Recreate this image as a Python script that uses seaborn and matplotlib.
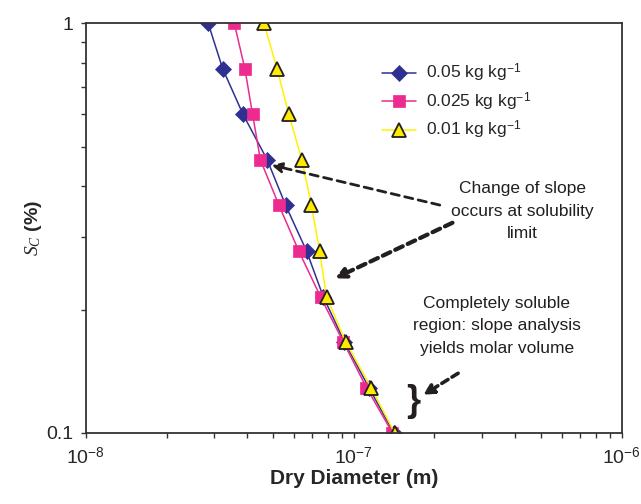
import numpy as np
import pandas as pd
import matplotlib
matplotlib.use("Agg")
import matplotlib.pyplot as plt
import seaborn as sns
from matplotlib.ticker import FixedLocator, FixedFormatter, NullFormatter

# ---- data ----
sc_levels = [1.0, 0.774, 0.599, 0.464, 0.359, 0.278, 0.215, 0.167, 0.129, 0.1]

d_005 = [2.86e-8, 3.24e-8, 3.86e-8, 4.75e-8, 5.57e-8, 6.66e-8, 7.69e-8, 9.22e-8, 1.138e-7, 1.41e-7]
d_0025 = [3.58e-8, 3.92e-8, 4.19e-8, 4.48e-8, 5.26e-8, 6.23e-8, 7.51e-8, 9.12e-8, 1.115e-7, 1.394e-7]
d_001 = [4.62e-8, 5.17e-8, 5.72e-8, 6.40e-8, 6.95e-8, 7.45e-8, 7.91e-8, 9.31e-8, 1.16e-7, 1.42e-7]

series_labels = ["0.05 kg kg$^{-1}$", "0.025 kg kg$^{-1}$", "0.01 kg kg$^{-1}$"]

xtick_vals = [1e-8, 1e-7, 1e-6]
xtick_labels = ["$10^{-8}$", "$10^{-7}$", "$10^{-6}$"]
ytick_vals = [0.1, 1.0]
ytick_labels = ["0.1", "1"]

annot_slope = "Change of slope\noccurs at solubility\nlimit"
annot_soluble = "Completely soluble\nregion: slope analysis\nyields molar volume"

# ---- style ----
sns.set_style("ticks")
plt.rcParams["font.family"] = ["Liberation Sans", "DejaVu Sans"]
plt.rcParams["mathtext.fontset"] = "custom"
plt.rcParams["mathtext.rm"] = "Liberation Sans"
plt.rcParams["mathtext.it"] = "Liberation Serif:italic"
plt.rcParams["mathtext.bf"] = "Liberation Sans:bold"

fig = plt.figure(figsize=(6.41, 5.04), dpi=100)
ax = fig.add_axes([0.134, 0.141, 0.836, 0.813])

styles = [
    dict(color="#2E3192", marker="D", markersize=7.8, markeredgecolor="#2E3192", markeredgewidth=0.5),
    dict(color="#EC2A90", marker="s", markersize=8.4, markeredgecolor="#EC2A90", markeredgewidth=0.5),
    dict(color="#FFF200", marker="^", markersize=9.5, markeredgecolor="#231F20",
         markerfacecolor="#FFEB00", markeredgewidth=1.3),
]
for d, lab, st in zip([d_005, d_0025, d_001], series_labels, styles):
    df = pd.DataFrame({"D": d, "Sc": sc_levels})
    sns.lineplot(data=df, x="D", y="Sc", ax=ax, label=lab, linewidth=1.1,
                 estimator=None, sort=False, **st)

ax.set_xscale("log")
ax.set_yscale("log")
ax.set_xlim(1e-8, 1e-6)
ax.set_ylim(0.1, 1.0)

ax.xaxis.set_major_locator(FixedLocator(xtick_vals))
ax.xaxis.set_major_formatter(FixedFormatter(xtick_labels))
ax.yaxis.set_major_locator(FixedLocator(ytick_vals))
ax.yaxis.set_major_formatter(FixedFormatter(ytick_labels))
ax.yaxis.set_minor_formatter(NullFormatter())
ax.xaxis.set_minor_formatter(NullFormatter())

ax.tick_params(axis="both", which="both", direction="out", length=3.8, width=1.0,
               color="#333333", top=False, right=False)
ax.tick_params(axis="x", which="major", labelsize=14, pad=6)
ax.tick_params(axis="y", which="major", labelsize=14, pad=5)

for sp in ax.spines.values():
    sp.set_visible(True)
    sp.set_color("#333333")
    sp.set_linewidth(1.3)

ax.set_xlabel("Dry Diameter (m)", fontsize=15, fontweight="bold", labelpad=1)
ax.set_ylabel(r"$\mathit{S_C}$ (%)", fontsize=14, fontweight="bold", labelpad=2)

leg = ax.legend(loc="upper left", bbox_to_anchor=(0.552, 0.905), frameon=False,
                fontsize=12.5, handlelength=2.0, handletextpad=0.55, labelspacing=0.36,
                borderpad=0, borderaxespad=0)

# ---- annotations ----
ax.text(0.8153, 0.5415, annot_slope, transform=ax.transAxes, ha="center", va="center",
        fontsize=12.5, linespacing=1.6, color="#231F20")
ax.text(0.7668, 0.261, annot_soluble, transform=ax.transAxes, ha="center", va="center",
        fontsize=12.5, linespacing=1.6, color="#231F20")

ax.annotate("", xy=(0.3464, 0.6537), xytext=(0.6604, 0.5561),
            xycoords="axes fraction", textcoords="axes fraction",
            arrowprops=dict(arrowstyle="-|>,head_length=0.6,head_width=0.3", linestyle=(0, (3, 2)),
                            lw=2.0, color="#231F20", shrinkA=0, shrinkB=0))
ax.annotate("", xy=(0.4646, 0.3773), xytext=(0.6841, 0.5129),
            xycoords="axes fraction", textcoords="axes fraction",
            arrowprops=dict(arrowstyle="-|>,head_length=0.6,head_width=0.3", linestyle=(0, (2, 1.3)),
                            lw=3.0, color="#231F20", shrinkA=0, shrinkB=0))
ax.annotate("", xy=(0.6293, 0.0927), xytext=(0.6946, 0.1456),
            xycoords="axes fraction", textcoords="axes fraction",
            arrowprops=dict(arrowstyle="-|>,head_length=0.6,head_width=0.3", linestyle=(0, (2, 1.3)),
                            lw=2.6, color="#231F20", shrinkA=0, shrinkB=0))
ax.text(0.610, 0.0756, "}", transform=ax.transAxes, ha="center", va="center",
        fontsize=26, fontweight="bold", color="#231F20")

fig.savefig("out.png", dpi=100)
